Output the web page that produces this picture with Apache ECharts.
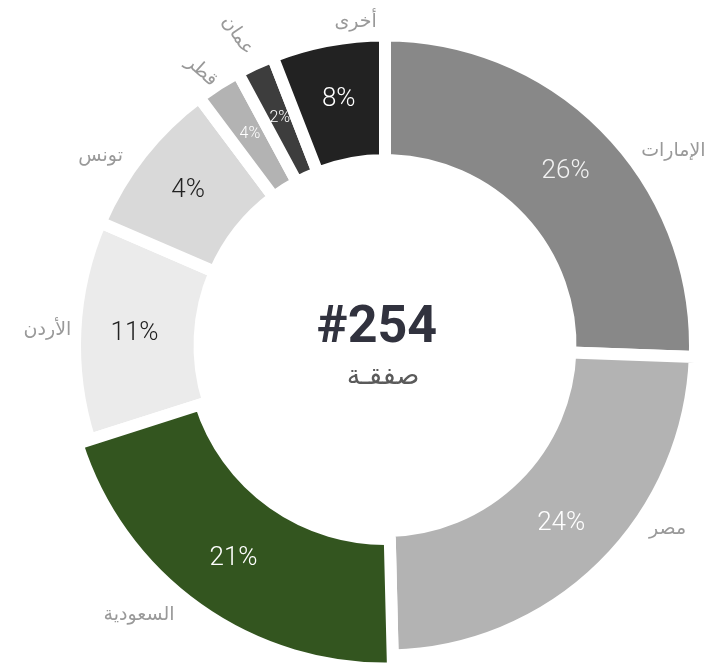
<!DOCTYPE html>
<html>
<head>
<meta charset="utf-8">
<script src="https://cdn.jsdelivr.net/npm/echarts@6/dist/echarts.min.js"></script>
<style>
html,body{margin:0;padding:0;background:#fff;}
#chart{width:708px;height:664px;}
</style>
</head>
<body>
<div id="chart"></div>
<script>
// ---- data ----
const categories = ['الإمارات', 'مصر', 'السعودية', 'الأردن', 'تونس', 'قطر', 'عمان', 'أخرى'];
const dealCounts = [65, 61, 52, 29, 21, 6, 5, 15];
const shareLabels = ['26%', '24%', '21%', '11%', '4%', '4%', '2%', '8%'];
const totalLabel = '#254';
const unitLabel = 'صفقـة';
const highlighted = 'السعودية';

// ---- styles / layout ----
const sliceColors = ['#888888', '#b3b3b3', '#33551f', '#ebebeb', '#d9d9d9', '#b3b3b3', '#3d3d3d', '#222222'];
const pctColors = ['#f2f2f2', '#ffffff', '#ffffff', '#222222', '#222222', '#ffffff', '#ffffff', '#ffffff'];
const pctSizes = [26, 26, 26, 26, 26, 16, 16, 26];
const nameNudge = [[45, 40], [45, -57], [-50, -6], [0, 1], [-19, 20], [6, 9], [-6, 3], [33, 9]];
const nameRotate = [0, 0, 0, 0, 0, -42, -56, 0];
const center = [385, 345.5];
const latinFont = 'Roboto, "Liberation Sans", sans-serif';
const arabicFont = '"DejaVu Sans", "Noto Sans", sans-serif';

const chart = echarts.init(document.getElementById('chart'), null, {renderer: 'canvas'});

function ringData(showFn) {
  return categories.map((name, i) => {
    const show = showFn(name);
    return {
      name: name,
      value: dealCounts[i],
      itemStyle: show
        ? {color: sliceColors[i], borderColor: '#ffffff', borderWidth: 12}
        : {color: 'rgba(0,0,0,0)', borderWidth: 0},
      label: show
        ? {show: true, color: pctColors[i], fontSize: pctSizes[i]}
        : {show: false}
    };
  });
}

const common = {
  type: 'pie',
  center: center,
  startAngle: 90,
  clockwise: true,
  avoidLabelOverlap: false,
  silent: true,
  animation: false,
  labelLine: {show: false},
  emphasis: {disabled: true}
};

const pctLabel = {
  position: 'inside',
  fontFamily: latinFont,
  fontWeight: 300,
  formatter: p => shareLabels[p.dataIndex]
};

chart.setOption({
  backgroundColor: '#ffffff',
  series: [
    Object.assign({}, common, {
      name: 'ring',
      radius: [185.5, 310],
      label: pctLabel,
      data: ringData(n => n !== highlighted)
    }),
    Object.assign({}, common, {
      name: 'highlight',
      radius: [193.5, 323],
      label: pctLabel,
      data: ringData(n => n === highlighted)
    }),
    Object.assign({}, common, {
      name: 'names',
      radius: [330, 340],
      label: {
        show: true,
        position: 'inside',
        color: '#999999',
        fontSize: 19,
        fontFamily: arabicFont,
        formatter: p => p.name
      },
      labelLayout: p => ({dx: nameNudge[p.dataIndex][0], dy: nameNudge[p.dataIndex][1]}),
      data: categories.map((name, i) => ({
        name: name,
        value: dealCounts[i],
        itemStyle: {color: 'rgba(0,0,0,0)', borderWidth: 0},
        label: {rotate: nameRotate[i]}
      }))
    })
  ],
  graphic: [
    {
      type: 'text', x: 377, y: 329,
      style: {text: totalLabel, align: 'center', verticalAlign: 'middle',
              font: 'bold 52px ' + latinFont, fill: '#31323e'}
    },
    {
      type: 'text', x: 383, y: 377,
      style: {text: unitLabel, align: 'center', verticalAlign: 'middle',
              font: '27px ' + arabicFont, fill: '#5a5a5a'}
    }
  ]
});
</script>
</body>
</html>
